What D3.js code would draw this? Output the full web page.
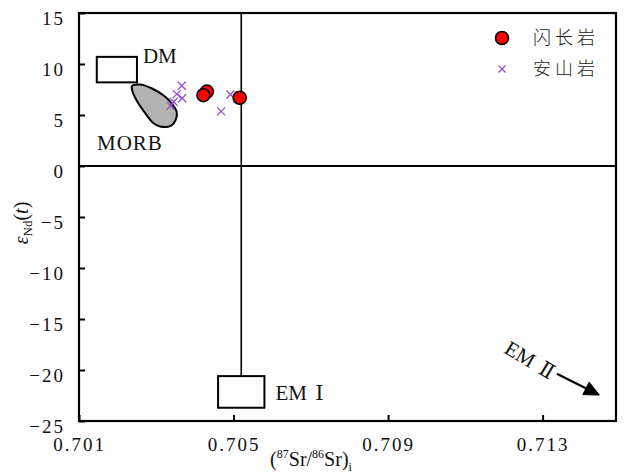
<!DOCTYPE html>
<html>
<head>
<meta charset="utf-8">
<script src="https://cdn.jsdelivr.net/npm/d3@7"></script>
<style>
  html, body { margin: 0; padding: 0; background: #fff; }
  svg { display: block; }
</style>
</head>
<body>
<svg id="chart" width="626" height="475"></svg>
<script>
// Sr–Nd isotope data: (87Sr/86Sr)i versus εNd(t)
const dioriteSr = [0.70431, 0.70422, 0.70516];
const dioriteNd = [7.30, 6.94, 6.69];

const andesiteSr = [0.70366, 0.70353, 0.70367, 0.70345, 0.70337, 0.70492, 0.70468];
const andesiteNd = [7.87, 7.04, 6.64, 6.30, 5.90, 7.01, 5.36];

// MORB field outline
const morbSr = [0.70237, 0.70258, 0.70289, 0.70321, 0.70341, 0.70353, 0.70350, 0.70339, 0.70310, 0.70292, 0.70271, 0.70250, 0.70239];
const morbNd = [7.84, 7.99, 7.60, 6.86, 6.08, 5.29, 4.51, 3.97, 3.87, 4.22, 5.20, 6.37, 7.25];

// mantle end-member boxes: [Sr min, Sr max, Nd min, Nd max]
const dmBox = [0.70146, 0.7025, 8.2, 10.7];
const em1Box = [0.7046, 0.7058, -23.7, -20.6];
const referenceSr = 0.7052;       // vertical reference line
const referenceNd = 0;            // horizontal reference line
const em2Arrow = [[0.71337, -20.37], [0.71447, -22.46]];

const xTicks = [0.701, 0.705, 0.709, 0.713];
const yTicks = [15, 10, 5, 0, -5, -10, -15, -20, -25];
const legendLabels = ["闪长岩", "安山岩"];

const SERIF = "'Liberation Serif', 'Times New Roman', serif";
const NUMERAL = "'DejaVu Serif', 'Liberation Serif', serif";

const svg = d3.select("#chart");
const plotLeft = 79, plotRight = 616, plotTop = 13, plotBottom = 421;

const x = d3.scaleLinear().domain([0.701, 0.7149]).range([plotLeft, plotRight]);
const y = d3.scaleLinear().domain([-25, 15]).range([plotBottom, plotTop]);

const purple = "#9448cc";

// axes with inward ticks
const xAxis = d3.axisBottom(x).tickValues(xTicks).tickFormat(d3.format(".3f"))
  .tickSizeInner(-6).tickSizeOuter(0).tickPadding(17);
const yAxis = d3.axisLeft(y).tickValues(yTicks).tickFormat(d3.format("d"))
  .tickSizeInner(-6).tickSizeOuter(0).tickPadding(14);

const gx = svg.append("g").attr("transform", `translate(0,${plotBottom})`).call(xAxis);
const gy = svg.append("g").attr("transform", `translate(${plotLeft},0)`).call(yAxis);
[gx, gy].forEach(g => {
  g.attr("font-family", null).attr("font-size", null);
  g.select(".domain").remove();
  g.selectAll(".tick line").attr("stroke", "#000").attr("stroke-width", 2);
  g.selectAll(".tick text").style("font-family", SERIF).style("font-size", "19px")
    .attr("letter-spacing", "2px").attr("fill", "#111");
});
gy.selectAll(".tick text").attr("dy", "0.62em");

// reference lines
svg.append("line")
  .attr("x1", plotLeft).attr("x2", plotRight).attr("y1", y(referenceNd)).attr("y2", y(referenceNd))
  .attr("stroke", "#000").attr("stroke-width", 2);
svg.append("line")
  .attr("x1", x(referenceSr)).attr("x2", x(referenceSr)).attr("y1", plotTop).attr("y2", y(em1Box[3]))
  .attr("stroke", "#000").attr("stroke-width", 1.6);

// frame
svg.append("rect")
  .attr("x", plotLeft).attr("y", plotTop).attr("width", plotRight - plotLeft).attr("height", plotBottom - plotTop)
  .attr("fill", "none").attr("stroke", "#000").attr("stroke-width", 2.2);

// end-member boxes
[dmBox, em1Box].forEach(b => {
  svg.append("rect")
    .attr("x", x(b[0])).attr("y", y(b[3]))
    .attr("width", x(b[1]) - x(b[0])).attr("height", y(b[2]) - y(b[3]))
    .attr("fill", "#fff").attr("stroke", "#000").attr("stroke-width", 2);
});

// MORB field
const morbPts = morbSr.map((s, i) => [x(s), y(morbNd[i])]);
svg.append("path")
  .attr("d", d3.line().curve(d3.curveCatmullRomClosed.alpha(0.5))(morbPts))
  .attr("fill", "#b3b3b3").attr("stroke", "#000").attr("stroke-width", 2);

// labels
const label = (px, py) => svg.append("text").style("font-family", SERIF)
  .attr("x", px).attr("y", py).style("font-size", "21px").attr("fill", "#111");
label(x(dmBox[1]) + 6, y(dmBox[3]) + 6).text("DM");
label(97, 150).attr("letter-spacing", "1px").text("MORB");
const em1 = label(x(em1Box[1]) + 11, 400);
em1.append("tspan").text("EM ");
em1.append("tspan").style("font-family", NUMERAL).attr("dx", 3).text("Ⅰ");

// EM II arrow
const a0 = [x(em2Arrow[0][0]), y(em2Arrow[0][1])];
const a1 = [x(em2Arrow[1][0]), y(em2Arrow[1][1])];
const ang = Math.atan2(a1[1] - a0[1], a1[0] - a0[0]);
const headLen = 15, headW = 7;
const base = [a1[0] - headLen * Math.cos(ang), a1[1] - headLen * Math.sin(ang)];
svg.append("line")
  .attr("x1", a0[0]).attr("y1", a0[1]).attr("x2", base[0] + 2 * Math.cos(ang)).attr("y2", base[1] + 2 * Math.sin(ang))
  .attr("stroke", "#000").attr("stroke-width", 2.2);
svg.append("path")
  .attr("d", `M${a1[0]},${a1[1]} L${base[0] - headW * Math.sin(ang)},${base[1] + headW * Math.cos(ang)} L${base[0] + headW * Math.sin(ang)},${base[1] - headW * Math.cos(ang)} Z`)
  .attr("fill", "#000").attr("stroke", "#000").attr("stroke-width", 1);
const em2 = svg.append("text").style("font-family", SERIF)
  .attr("transform", `translate(${a0[0] - 27},${a0[1] - 14}) rotate(31)`)
  .attr("text-anchor", "middle").attr("dy", "0.35em")
  .style("font-size", "21px").attr("fill", "#111");
em2.append("tspan").text("EM ");
em2.append("tspan").style("font-family", NUMERAL).attr("dx", 3).text("Ⅱ");

// data points
const cross = (g, cx, cy, h) => g.append("path")
  .attr("d", `M${cx - h},${cy - h}L${cx + h},${cy + h}M${cx - h},${cy + h}L${cx + h},${cy - h}`)
  .attr("stroke", purple).attr("stroke-width", 1.2).attr("fill", "none");

const pts = svg.append("g");
andesiteSr.forEach((s, i) => cross(pts, x(s), y(andesiteNd[i]), 4));
pts.selectAll("circle").data(dioriteSr.map((s, i) => [s, dioriteNd[i]])).join("circle")
  .attr("cx", d => x(d[0])).attr("cy", d => y(d[1])).attr("r", 6.5)
  .attr("fill", "#ff0000").attr("stroke", "#000").attr("stroke-width", 1.6);

// legend
const lg = svg.append("g");
lg.append("circle").attr("cx", 502).attr("cy", 38).attr("r", 6.5)
  .attr("fill", "#ff0000").attr("stroke", "#000").attr("stroke-width", 1.6);
cross(lg, 502, 69, 3.5);
legendLabels.forEach((t, i) => lg.append("text")
  .attr("x", 533).attr("y", 38 + i * 31).attr("dy", "0.36em")
  .style("font-family", "'Noto Sans CJK SC', sans-serif").style("font-size", "18px")
  .style("font-weight", 300)
  .attr("letter-spacing", "4px").attr("fill", "#222").text(t));

// axis titles
const yt = svg.append("text").style("font-family", SERIF)
  .attr("transform", `translate(28,223) rotate(-90)`).attr("text-anchor", "middle")
  .style("font-size", "20px").attr("fill", "#111");
yt.append("tspan").attr("font-style", "italic").text("ε");
yt.append("tspan").style("font-size", "13px").attr("dy", 4).text("Nd");
yt.append("tspan").attr("dy", -4).text("(");
yt.append("tspan").attr("font-style", "italic").text("t");
yt.append("tspan").text(")");

const xt = svg.append("text").style("font-family", SERIF)
  .attr("x", 311).attr("y", 466).attr("text-anchor", "middle")
  .style("font-size", "20px").attr("fill", "#111");
xt.append("tspan").text("(");
xt.append("tspan").style("font-size", "12px").attr("dy", -8).text("87");
xt.append("tspan").attr("dy", 8).text("Sr/");
xt.append("tspan").style("font-size", "12px").attr("dy", -8).text("86");
xt.append("tspan").attr("dy", 8).text("Sr)");
xt.append("tspan").style("font-size", "12px").attr("dy", 5).text("i");
</script>
</body>
</html>
